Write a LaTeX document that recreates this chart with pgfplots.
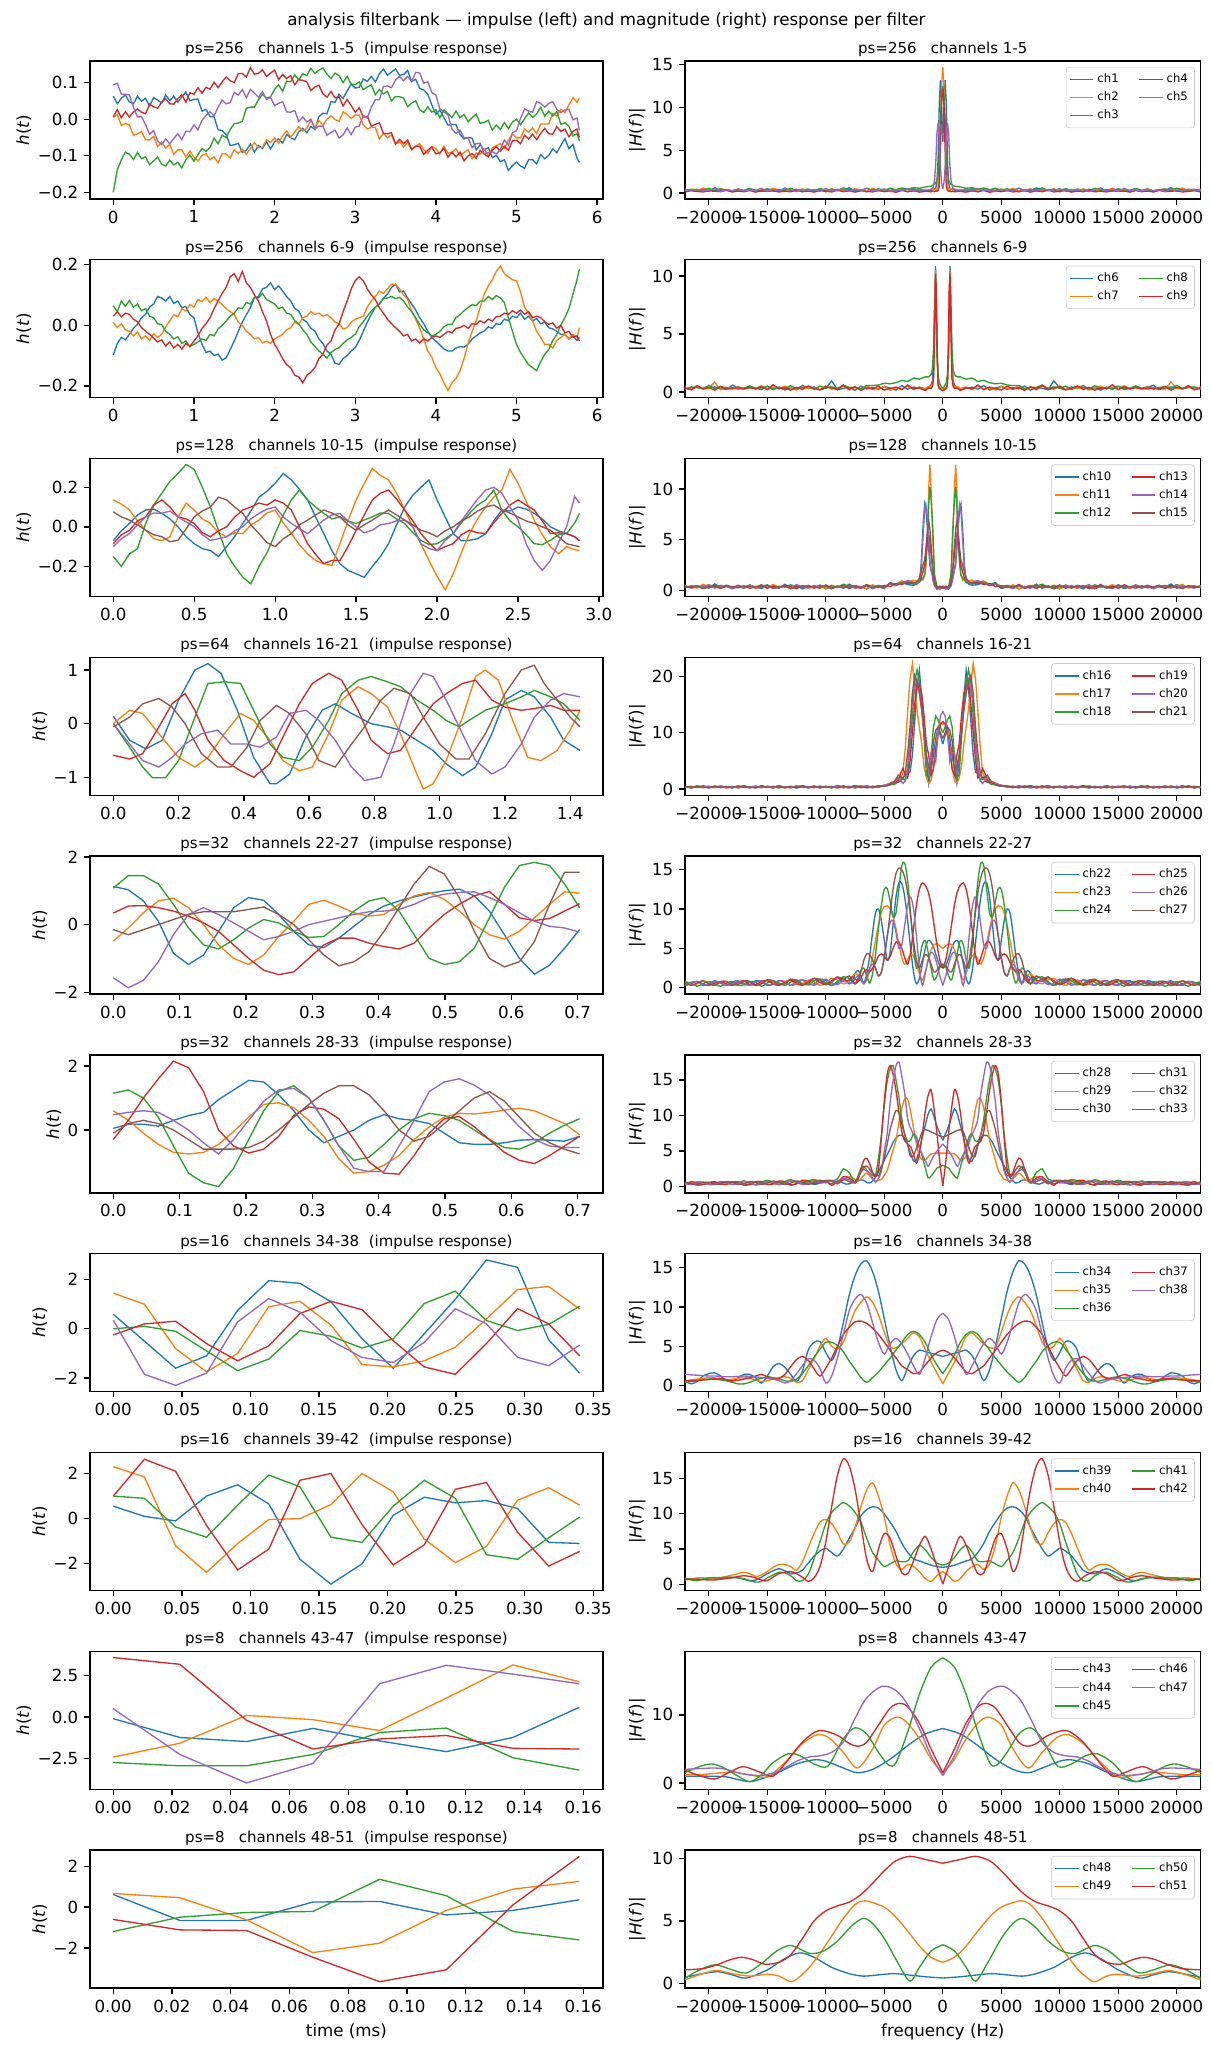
\documentclass[border=0pt]{standalone}
\usepackage{fontspec}
\setmainfont{DejaVu Sans}
\usepackage{pgfplots}
\usepackage{pgfplotstable}
\pgfplotsset{compat=1.18}
\usepgfplotslibrary{groupplots}

\definecolor{c0}{RGB}{31,119,180}
\definecolor{c1}{RGB}{255,127,14}
\definecolor{c2}{RGB}{44,160,44}
\definecolor{c3}{RGB}{214,39,40}
\definecolor{c4}{RGB}{148,103,189}
\definecolor{c5}{RGB}{140,86,75}

\pgfplotsset{
  p/.style={forget plot, line width=0.8pt},
  fb/.style={scale only axis, height=82.8pt, tick align=outside, tick pos=left,
    major tick length=3.5pt, tick style={black, line width=0.8pt},
    axis line style={line width=0.8pt},
    scaled x ticks=false, scaled y ticks=false,
    ticklabel style={font=\fontsize{10}{12}\selectfont},
    label style={font=\fontsize{10}{12}\selectfont},
    ylabel style={yshift=-3pt},
    title style={font=\fontsize{9}{11}\selectfont, anchor=base, yshift=-1.4pt},
  },
  L/.style={fb, width=307.8pt, ylabel={\textit{h}(\textit{t})}},
  R/.style={fb, width=309.6pt, xmin=-22050, xmax=22050,
    xtick={-20000,-15000,-10000,-5000,0,5000,10000,15000,20000},
    xticklabels={−20000,−15000,−10000,−5000,0,5000,10000,15000,20000},
    ylabel={|\textit{H}(\textit{f})|},
    legend columns=2, legend cell align=left,
    legend style={at={(1,1)}, xshift=-3.5pt, yshift=-3.5pt, anchor=north east,
      font=\fontsize{7}{8}\selectfont, draw=black!20, rounded corners=2pt,
      fill=white, fill opacity=0.8, text opacity=1, inner sep=2pt,
      /tikz/every even column/.append style={column sep=10pt}},
    legend image code/.code={\draw[##1, line width=0.8pt] (0pt,0pt) -- (14pt,0pt);},
  },
}
\newcommand{\li}[2]{\addlegendimage{#1}\addlegendentry{#2}}
\newcommand{\lp}[3]{\addplot[p,#1] table[x=t,y=#2]{#3};}
\newcommand{\mir}[4][]{\addplot[p,#2,#1] table[x=fq,y=#3]{#4};\addplot[p,#2,#1] table[x expr=-\thisrow{fq},y=#3]{#4};}

% ---------------- left tables ----------------
\pgfplotstableread{
t a b c d e
0.00 0.063 0.005 -0.200 0.007 0.094
0.05 0.042 0.012 -0.138 0.026 0.098
0.10 0.057 -0.017 -0.111 0.004 0.068
0.15 0.066 -0.012 -0.090 0.020 0.068
0.20 0.047 -0.016 -0.096 0.006 0.066
0.25 0.042 -0.044 -0.110 0.020 0.033
0.30 0.063 -0.040 -0.091 0.028 0.006
0.35 0.049 -0.034 -0.108 0.019 0.007
0.40 0.057 -0.056 -0.103 0.015 -0.015
0.45 0.036 -0.057 -0.124 0.041 -0.041
0.50 0.059 -0.047 -0.114 0.034 -0.031
0.55 0.052 -0.075 -0.104 0.030 -0.060
0.60 0.044 -0.063 -0.123 0.046 -0.069
0.65 0.066 -0.079 -0.128 0.056 -0.054
0.70 0.051 -0.069 -0.112 0.042 -0.067
0.75 0.063 -0.096 -0.125 0.041 -0.053
0.80 0.046 -0.084 -0.118 0.056 -0.040
0.85 0.061 -0.084 -0.133 0.067 -0.056
0.90 0.074 -0.103 -0.111 0.046 -0.033
0.95 0.050 -0.087 -0.098 0.072 -0.034
1.00 0.054 -0.104 -0.115 0.068 -0.016
1.05 0.055 -0.114 -0.097 0.086 -0.029
1.10 0.022 -0.099 -0.080 0.071 -0.003
1.15 0.027 -0.094 -0.088 0.087 0.010
1.20 0.007 -0.111 -0.077 0.082 0.020
1.25 0.007 -0.103 -0.052 0.101 0.009
1.30 -0.029 -0.119 -0.067 0.086 0.033
1.35 -0.031 -0.094 -0.044 0.102 0.052
1.40 -0.042 -0.095 -0.050 0.115 0.042
1.45 -0.072 -0.106 -0.028 0.105 0.045
1.50 -0.070 -0.083 -0.012 0.100 0.073
1.55 -0.066 -0.094 -0.011 0.124 0.066
1.60 -0.091 -0.082 -0.006 0.125 0.081
1.65 -0.085 -0.096 0.030 0.115 0.059
1.70 -0.068 -0.080 0.033 0.141 0.081
1.75 -0.090 -0.064 0.033 0.123 0.071
1.80 -0.072 -0.078 0.053 0.125 0.060
1.85 -0.080 -0.077 0.068 0.135 0.075
1.90 -0.062 -0.056 0.058 0.117 0.054
1.95 -0.081 -0.064 0.061 0.126 0.060
2.00 -0.062 -0.051 0.081 0.134 0.037
2.05 -0.054 -0.066 0.094 0.108 0.043
2.10 -0.065 -0.045 0.076 0.122 0.048
2.15 -0.042 -0.032 0.104 0.111 0.020
2.20 -0.051 -0.049 0.102 0.119 0.019
2.25 -0.056 -0.035 0.121 0.094 0.024
2.30 -0.035 -0.021 0.107 0.108 -0.006
2.35 -0.025 -0.032 0.124 0.106 0.006
2.40 -0.037 -0.025 0.119 0.102 -0.008
2.45 -0.020 -0.003 0.139 0.078 0.000
2.50 -0.028 -0.022 0.125 0.088 -0.027
2.55 0.007 -0.004 0.134 0.093 -0.019
2.60 0.016 -0.016 0.140 0.069 -0.019
2.65 0.015 0.000 0.123 0.060 -0.044
2.70 0.048 0.009 0.111 0.076 -0.036
2.75 0.046 -0.001 0.126 0.058 -0.030
2.80 0.068 -0.006 0.119 0.061 -0.051
2.85 0.057 0.020 0.100 0.036 -0.043
2.90 0.077 0.013 0.117 0.054 -0.024
2.95 0.096 0.002 0.096 0.037 -0.042
3.00 0.085 0.011 0.094 0.019 -0.022
3.05 0.087 0.011 0.102 0.031 -0.019
3.10 0.110 -0.015 0.081 0.006 0.010
3.15 0.103 -0.027 0.088 0.008 0.003
3.20 0.117 -0.022 0.094 -0.019 0.033
3.25 0.102 -0.023 0.067 -0.014 0.053
3.30 0.124 -0.054 0.081 -0.010 0.053
3.35 0.137 -0.038 0.069 -0.039 0.089
3.40 0.120 -0.051 0.076 -0.040 0.091
3.45 0.129 -0.043 0.050 -0.037 0.086
3.50 0.137 -0.068 0.062 -0.068 0.107
3.55 0.120 -0.061 0.061 -0.055 0.117
3.60 0.122 -0.076 0.058 -0.067 0.105
3.65 0.133 -0.063 0.034 -0.057 0.117
3.70 0.103 -0.084 0.044 -0.082 0.103
3.75 0.109 -0.074 0.050 -0.074 0.128
3.80 0.084 -0.067 0.026 -0.074 0.126
3.85 0.080 -0.083 0.018 -0.096 0.098
3.90 0.068 -0.094 0.034 -0.085 0.102
3.95 0.039 -0.075 0.019 -0.076 0.073
4.00 0.013 -0.080 0.026 -0.095 0.066
4.05 0.025 -0.095 0.004 -0.092 0.028
4.10 0.004 -0.074 0.025 -0.079 0.020
4.15 -0.016 -0.093 0.015 -0.104 0.012
4.20 -0.014 -0.091 0.004 -0.090 -0.027
4.25 -0.015 -0.081 0.022 -0.103 -0.039
4.30 -0.042 -0.100 0.004 -0.090 -0.030
4.35 -0.054 -0.091 0.013 -0.114 -0.051
4.40 -0.050 -0.083 -0.007 -0.100 -0.051
4.45 -0.052 -0.108 0.004 -0.094 -0.078
4.50 -0.084 -0.092 0.014 -0.107 -0.067
4.55 -0.070 -0.096 -0.011 -0.085 -0.066
4.60 -0.084 -0.081 -0.009 -0.095 -0.095
4.65 -0.078 -0.100 -0.003 -0.103 -0.091
4.70 -0.105 -0.079 -0.030 -0.085 -0.089
4.75 -0.099 -0.072 -0.016 -0.075 -0.095
4.80 -0.116 -0.067 -0.028 -0.088 -0.083
4.85 -0.111 -0.080 -0.009 -0.074 -0.057
4.90 -0.140 -0.057 -0.026 -0.085 -0.071
4.95 -0.127 -0.040 -0.008 -0.059 -0.037
5.00 -0.117 -0.051 0.000 -0.058 -0.032
5.05 -0.128 -0.051 -0.015 -0.067 0.002
5.10 -0.134 -0.027 0.001 -0.044 0.028
5.15 -0.111 -0.036 0.017 -0.054 0.022
5.20 -0.111 -0.024 0.005 -0.041 0.019
5.25 -0.122 -0.040 0.014 -0.056 0.048
5.30 -0.097 -0.013 0.033 -0.039 0.043
5.35 -0.108 -0.013 0.008 -0.025 0.033
5.40 -0.099 -0.013 0.022 -0.040 0.043
5.45 -0.081 0.016 0.009 -0.041 0.048
5.50 -0.092 0.008 0.021 -0.020 0.027
5.55 -0.072 0.027 -0.014 -0.034 0.018
5.60 -0.053 0.018 -0.010 -0.027 0.025
5.65 -0.081 0.039 -0.019 -0.048 0.027
5.70 -0.069 0.059 -0.046 -0.033 -0.002
5.75 -0.106 0.046 -0.039 -0.027 0.003
5.78 -0.118 0.057 -0.059 -0.050 -0.031
}\Lone

\pgfplotstableread{
t a b c d
0.00 -0.098 0.010 0.064 0.030
0.05 -0.060 -0.008 0.045 0.045
0.10 -0.040 0.005 0.080 0.028
0.15 -0.048 -0.015 0.062 0.040
0.20 -0.030 -0.020 0.082 0.036
0.25 -0.010 -0.035 0.060 0.020
0.30 0.003 -0.022 0.070 0.012
0.35 0.025 -0.045 0.048 -0.008
0.40 0.036 -0.035 0.055 -0.019
0.45 0.060 -0.050 0.030 -0.030
0.50 0.070 -0.028 0.025 -0.042
0.55 0.095 -0.040 0.005 -0.055
0.60 0.090 -0.030 0.002 -0.048
0.65 0.080 -0.005 -0.020 -0.068
0.70 0.095 0.014 -0.030 -0.055
0.75 0.072 0.035 -0.045 -0.075
0.80 0.080 0.028 -0.038 -0.063
0.85 0.058 0.055 -0.060 -0.078
0.90 0.062 0.047 -0.052 -0.060
0.95 0.035 0.068 -0.070 -0.070
1.00 0.025 0.060 -0.063 -0.052
1.05 -0.025 0.085 -0.055 -0.035
1.10 -0.063 0.078 -0.045 -0.010
1.15 -0.090 0.092 -0.050 0.005
1.20 -0.085 0.075 -0.030 0.025
1.25 -0.100 0.088 -0.035 0.055
1.30 -0.095 0.080 -0.012 0.080
1.35 -0.115 0.068 0.000 0.105
1.40 -0.107 0.055 0.014 0.125
1.45 -0.080 0.045 0.030 0.160
1.50 -0.052 0.036 0.040 0.170
1.55 -0.020 0.010 0.058 0.145
1.60 0.010 0.000 0.055 0.178
1.65 0.035 -0.020 0.075 0.140
1.70 0.058 -0.030 0.070 0.125
1.75 0.090 -0.045 0.092 0.100
1.80 0.095 -0.040 0.090 0.080
1.85 0.120 -0.058 0.105 0.045
1.90 0.125 -0.052 0.085 0.014
1.95 0.140 -0.060 0.078 -0.030
2.00 0.118 -0.045 0.070 -0.063
2.05 0.130 -0.038 0.055 -0.085
2.10 0.113 -0.030 0.060 -0.110
2.15 0.095 -0.015 0.040 -0.130
2.20 0.080 -0.008 0.036 -0.140
2.25 0.055 0.010 0.015 -0.165
2.30 0.047 0.003 0.005 -0.170
2.35 0.020 0.025 -0.015 -0.190
2.40 0.010 0.030 -0.030 -0.165
2.45 -0.010 0.045 -0.055 -0.155
2.50 -0.019 0.036 -0.070 -0.140
2.55 -0.045 0.040 -0.085 -0.110
2.60 -0.060 0.030 -0.096 -0.095
2.65 -0.085 0.035 -0.108 -0.065
2.70 -0.096 0.025 -0.090 -0.052
2.75 -0.125 0.010 -0.080 -0.015
2.80 -0.129 0.005 -0.074 0.005
2.85 -0.110 -0.012 -0.060 0.045
2.90 -0.100 -0.008 -0.048 0.080
2.95 -0.085 0.010 -0.040 0.120
3.00 -0.074 0.020 -0.030 0.147
3.05 -0.050 0.025 -0.005 0.160
3.10 -0.020 0.030 0.012 0.147
3.15 0.010 0.060 0.030 0.120
3.20 0.036 0.080 0.047 0.100
3.25 0.060 0.095 0.060 0.085
3.30 0.070 0.113 0.070 0.058
3.35 0.090 0.105 0.088 0.040
3.40 0.102 0.120 0.090 0.020
3.45 0.125 0.135 0.095 0.005
3.50 0.135 0.135 0.088 -0.008
3.55 0.110 0.120 0.092 -0.020
3.60 0.113 0.100 0.080 -0.035
3.65 0.090 0.085 0.060 -0.030
3.70 0.070 0.047 0.045 -0.052
3.75 0.050 0.020 0.025 -0.045
3.80 0.025 -0.010 0.003 -0.058
3.85 0.005 -0.045 -0.015 -0.045
3.90 -0.020 -0.085 -0.025 -0.052
3.95 -0.040 -0.105 -0.035 -0.040
4.00 -0.052 -0.140 -0.030 -0.035
4.05 -0.065 -0.160 -0.020 -0.040
4.10 -0.078 -0.190 -0.005 -0.030
4.15 -0.085 -0.215 0.003 -0.020
4.20 -0.085 -0.190 0.003 -0.025
4.25 -0.075 -0.175 0.025 -0.010
4.30 -0.070 -0.150 0.035 -0.008
4.35 -0.072 -0.110 0.048 0.000
4.40 -0.063 -0.060 0.058 -0.010
4.45 -0.045 -0.020 0.068 0.005
4.50 -0.035 0.014 0.065 0.003
4.55 -0.025 0.060 0.080 0.015
4.60 -0.019 0.102 0.080 0.008
4.65 -0.005 0.130 0.095 0.020
4.70 -0.010 0.150 0.085 0.014
4.75 0.005 0.178 0.098 0.028
4.80 0.003 0.195 0.090 0.030
4.85 0.020 0.170 0.075 0.040
4.90 0.015 0.160 0.025 0.036
4.95 0.030 0.150 -0.020 0.048
5.00 0.025 0.147 -0.063 0.040
5.05 0.040 0.110 -0.090 0.050
5.10 0.020 0.060 -0.110 0.036
5.15 0.030 0.040 -0.130 0.045
5.20 0.014 0.014 -0.140 0.025
5.25 0.022 -0.020 -0.150 0.030
5.30 0.005 -0.040 -0.120 0.025
5.35 0.010 -0.063 -0.096 0.012
5.40 -0.008 -0.063 -0.080 0.003
5.45 -0.012 -0.075 -0.050 0.008
5.50 -0.020 -0.050 -0.030 -0.010
5.55 -0.030 -0.040 0.000 0.000
5.60 -0.030 -0.030 0.025 -0.025
5.65 -0.045 -0.045 0.055 -0.020
5.70 -0.035 -0.030 0.102 -0.040
5.75 -0.050 -0.040 0.150 -0.035
5.78 -0.040 -0.008 0.185 -0.052
}\Ltwo

\pgfplotstableread{
t a b c d e f
0.00 -0.070 0.136 -0.150 -0.085 -0.100 0.076
0.05 -0.020 0.115 -0.200 -0.040 -0.060 0.050
0.10 0.017 0.085 -0.136 -0.017 -0.034 0.034
0.15 0.060 0.030 -0.110 0.030 0.010 0.010
0.20 0.085 -0.017 0.017 0.050 0.050 -0.017
0.25 0.090 -0.060 0.110 0.110 0.070 -0.040
0.30 0.068 -0.070 0.170 0.136 0.068 -0.050
0.35 0.040 -0.050 0.230 0.100 0.080 -0.075
0.40 0.000 0.050 0.270 0.050 0.050 -0.068
0.45 -0.050 0.120 0.315 0.040 0.025 -0.010
0.50 -0.085 0.085 0.290 0.017 0.000 0.050
0.55 -0.110 0.040 0.200 -0.030 -0.040 0.080
0.60 -0.120 0.017 0.100 -0.050 -0.068 0.100
0.65 -0.150 -0.030 -0.020 -0.020 -0.060 0.150
0.70 -0.100 -0.050 -0.136 0.000 -0.050 0.136
0.75 -0.050 -0.030 -0.200 0.050 -0.020 0.100
0.80 0.017 -0.034 -0.254 0.085 0.000 0.068
0.85 0.080 0.010 -0.288 0.100 0.040 0.010
0.90 0.150 0.034 -0.200 0.120 0.068 -0.034
0.95 0.180 0.070 -0.130 0.110 0.090 -0.080
1.00 0.220 0.085 -0.034 0.136 0.100 -0.100
1.05 0.270 0.020 0.060 0.120 0.050 -0.060
1.10 0.237 -0.034 0.136 0.085 0.017 -0.034
1.15 0.190 -0.090 0.186 0.000 -0.010 0.010
1.20 0.136 -0.136 0.136 -0.085 -0.034 0.034
1.25 0.050 -0.170 0.100 -0.140 0.000 0.060
1.30 -0.034 -0.186 0.068 -0.186 0.034 0.085
1.35 -0.120 -0.195 0.040 -0.170 0.060 0.070
1.40 -0.186 -0.085 0.050 -0.170 0.068 0.050
1.45 -0.220 0.030 0.030 -0.100 0.030 0.010
1.50 -0.237 0.136 0.017 -0.017 0.000 -0.017
1.55 -0.255 0.220 0.035 0.060 -0.030 0.010
1.60 -0.200 0.295 0.050 0.136 -0.017 0.034
1.65 -0.150 0.260 0.070 0.170 0.010 0.060
1.70 -0.085 0.237 0.068 0.186 0.017 0.085
1.75 0.010 0.170 0.040 0.140 0.030 0.060
1.80 0.100 0.085 0.017 0.085 0.034 0.034
1.85 0.160 0.000 -0.030 0.030 0.000 0.010
1.90 0.200 -0.085 -0.068 -0.034 -0.085 -0.017
1.95 0.237 -0.170 -0.090 -0.080 -0.110 -0.030
2.00 0.136 -0.250 -0.085 -0.120 -0.120 -0.050
2.05 0.050 -0.318 -0.060 -0.100 -0.070 -0.020
2.10 -0.034 -0.237 -0.034 -0.085 -0.034 0.000
2.15 -0.070 -0.130 0.020 -0.040 0.030 0.030
2.20 -0.068 -0.034 0.068 -0.017 0.085 0.050
2.25 -0.060 0.040 0.110 -0.030 0.140 0.080
2.30 -0.034 0.100 0.136 -0.034 0.186 0.100
2.35 0.030 0.150 0.186 0.020 0.200 0.110
2.40 0.085 0.186 0.085 0.068 0.170 0.085
2.45 0.080 0.290 0.030 0.110 0.100 0.070
2.50 0.100 0.220 0.000 0.136 0.034 0.050
2.55 0.090 0.130 -0.040 0.110 -0.085 0.030
2.60 0.068 0.034 -0.085 0.085 -0.170 0.017
2.65 0.040 -0.040 -0.090 0.030 -0.220 0.000
2.70 0.000 -0.100 -0.068 -0.034 -0.170 -0.017
2.75 -0.020 -0.136 -0.040 -0.030 -0.080 -0.050
2.80 -0.034 -0.100 -0.034 -0.034 0.000 -0.085
2.85 -0.050 -0.115 0.020 -0.050 0.153 -0.095
2.88 -0.070 -0.120 0.068 -0.070 0.120 -0.100
}\Lthree

\pgfplotstableread{
t a b c d e f
0.0000 1.13 -0.49 1.08 0.34 -1.57 -0.15
0.0227 1.03 -0.10 1.45 0.55 -1.87 -0.30
0.0454 0.70 0.35 1.45 0.56 -1.65 -0.15
0.0680 0.10 0.70 1.20 0.50 -1.10 0.00
0.0907 -0.85 0.78 0.60 0.40 -0.30 0.15
0.1134 -1.18 0.50 -0.10 0.25 0.30 0.30
0.1361 -0.90 0.00 -0.60 0.05 0.50 0.38
0.1587 -0.20 -0.60 -0.72 -0.20 0.30 0.38
0.1814 0.50 -1.00 -0.45 -0.60 0.05 0.38
0.2041 0.80 -1.18 -0.10 -1.00 -0.20 0.45
0.2268 0.72 -0.90 0.15 -1.35 -0.45 0.52
0.2494 0.30 -0.35 0.05 -1.48 -0.35 0.30
0.2721 -0.20 0.10 -0.20 -1.40 -0.20 0.00
0.2948 -0.60 0.60 -0.38 -1.00 0.00 -0.45
0.3175 -0.68 0.72 -0.35 -0.60 0.10 -0.90
0.3401 -0.40 0.55 0.00 -0.40 0.20 -1.22
0.3628 -0.05 0.35 0.40 -0.40 0.30 -1.10
0.3855 0.30 0.25 0.70 -0.55 0.38 -0.80
0.4082 0.55 0.30 0.80 -0.65 0.40 -0.20
0.4308 0.70 0.60 0.40 -0.72 0.45 0.50
0.4535 0.82 0.85 -0.30 -0.55 0.60 1.20
0.4762 0.92 0.95 -1.00 -0.10 0.80 1.72
0.4989 1.00 0.75 -1.18 0.30 0.90 1.50
0.5215 1.05 0.40 -1.10 0.60 0.95 0.80
0.5442 0.85 0.00 -0.70 0.85 0.97 -0.20
0.5669 0.40 -0.30 0.20 0.98 0.80 -1.00
0.5896 -0.30 -0.43 1.10 0.60 0.60 -1.25
0.6122 -1.00 -0.20 1.75 0.20 0.35 -1.10
0.6349 -1.47 0.20 1.84 0.12 0.10 -0.50
0.6576 -1.20 0.60 1.75 0.18 -0.05 0.60
0.6803 -0.70 0.97 1.20 0.40 -0.10 1.55
0.7029 -0.15 0.93 0.50 0.62 -0.22 1.55
}\Lfive

\pgfplotstableread{
t a b c d e f
0.0000 0.05 0.60 1.15 -0.30 0.48 -0.10
0.0227 0.18 0.30 1.25 0.30 0.55 0.20
0.0454 0.18 -0.10 1.00 1.00 0.60 0.30
0.0680 0.12 -0.45 0.40 1.60 0.55 0.20
0.0907 0.30 -0.70 -0.50 2.15 0.30 0.00
0.1134 0.45 -0.75 -1.35 1.95 0.00 -0.30
0.1361 0.55 -0.70 -1.65 1.20 -0.40 -0.60
0.1587 0.95 -0.45 -1.77 0.00 -0.75 -0.60
0.1814 1.25 -0.05 -1.20 -0.50 -0.30 -0.60
0.2041 1.55 0.40 -0.30 -0.72 0.30 -0.55
0.2268 1.50 0.80 0.60 -0.60 0.90 -0.35
0.2494 1.10 0.85 1.20 -0.20 1.25 0.00
0.2721 0.60 0.70 1.38 0.45 1.30 0.40
0.2948 0.00 0.30 1.00 0.72 1.00 0.80
0.3175 -0.40 -0.20 0.30 0.65 0.30 1.15
0.3401 -0.20 -0.90 -0.50 0.35 -0.50 1.38
0.3628 0.00 -1.35 -0.95 -0.30 -1.20 1.38
0.3855 0.30 -1.30 -0.85 -1.00 -1.30 1.10
0.4082 0.48 -1.10 -0.45 -1.35 -1.30 0.60
0.4308 0.35 -0.80 0.00 -1.38 -0.50 0.00
0.4535 0.30 -0.30 0.35 -0.80 0.30 -0.35
0.4762 0.20 0.10 0.52 -0.10 1.20 -0.20
0.4989 -0.10 0.40 0.45 0.35 1.50 0.20
0.5215 -0.40 0.52 0.30 0.42 1.60 0.60
0.5442 -0.45 0.50 0.00 0.10 1.40 1.00
0.5669 -0.45 0.55 -0.30 -0.30 1.10 1.20
0.5896 -0.40 0.62 -0.55 -0.70 0.60 0.90
0.6122 -0.32 0.68 -0.60 -0.95 0.10 0.40
0.6349 -0.30 0.60 -0.40 -1.05 -0.30 -0.10
0.6576 -0.32 0.40 -0.10 -0.80 -0.50 -0.40
0.6803 -0.35 0.20 0.15 -0.50 -0.55 -0.60
0.7029 -0.20 -0.15 0.35 -0.20 -0.55 -0.75
}\Lsix

\pgfplotstableread{
t a b c d e
0.0000 0.59 1.45 0.00 -0.25 0.35
0.0227 -0.50 1.00 0.10 0.20 -1.85
0.0454 -1.60 -0.80 -0.10 0.31 -2.30
0.0680 -1.10 -1.75 -0.90 -0.60 -1.80
0.0907 0.75 -1.00 -1.70 -1.30 0.28
0.1134 1.96 0.90 -1.23 -0.69 1.23
0.1361 1.85 1.12 -0.07 0.62 0.68
0.1587 1.10 0.15 -0.30 1.12 -0.48
0.1814 -0.40 -1.45 -0.78 0.78 -1.16
0.2041 -1.60 -1.55 -0.41 -0.48 -1.37
0.2268 -0.20 -1.30 1.03 -1.55 -0.55
0.2494 1.20 -0.75 1.53 -1.85 0.82
0.2721 2.80 0.40 0.34 -0.60 0.20
0.2948 2.50 1.60 -0.07 0.82 -1.16
0.3175 -0.45 1.72 0.18 0.20 -1.50
0.3401 -1.80 0.80 0.92 -1.10 -0.66
}\Lseven

\pgfplotstableread{
t a b c d
0.0000 0.55 2.30 1.00 1.00
0.0227 0.10 1.85 0.90 2.63
0.0454 -0.10 -1.20 -0.37 2.10
0.0680 1.00 -2.38 -0.82 -0.30
0.0907 1.50 -1.10 0.60 -2.27
0.1134 0.65 -0.04 1.93 -1.35
0.1361 -1.80 0.00 1.41 1.70
0.1587 -2.90 0.62 -0.82 2.00
0.1814 -2.00 2.00 -1.05 -0.27
0.2041 0.15 1.19 0.55 -2.05
0.2268 0.95 -0.90 1.70 -1.16
0.2494 0.70 -1.95 0.90 1.30
0.2721 0.80 -1.23 -1.60 1.60
0.2948 0.45 0.82 -1.80 -0.60
0.3175 -1.05 1.37 -0.85 -2.10
0.3401 -1.10 0.60 0.07 -1.45
}\Leight

\pgfplotstableread{
t a b c d e
0.0000 -0.10 -2.43 -2.76 3.61 0.51
0.0227 -1.24 -1.59 -2.96 3.20 -2.27
0.0454 -1.49 0.10 -2.96 -0.20 -4.00
0.0680 -0.69 -0.16 -2.27 -1.94 -2.82
0.0907 -1.45 -0.82 -0.94 -1.33 2.02
0.1134 -2.10 1.15 -0.67 -1.12 3.14
0.1361 -1.24 3.16 -2.47 -1.90 2.60
0.1587 0.59 2.14 -3.22 -1.94 2.02
}\Lnine

\pgfplotstableread{
t a b c d
0.0000 0.62 0.67 -1.19 -0.60
0.0227 -0.65 0.46 -0.49 -1.11
0.0454 -0.65 -0.62 -0.26 -1.14
0.0680 0.25 -2.22 -0.21 -2.45
0.0907 0.28 -1.76 1.36 -3.64
0.1134 -0.38 -0.16 0.56 -3.06
0.1361 -0.16 0.88 -1.19 0.11
0.1587 0.36 1.26 -1.60 2.48
}\Lten

% ---------------- right tables (f >= 0, mirrored) ----------------
\pgfplotstableread{
fq a b c d e
0 6.0 14.7 12.5 12.2 0.5
100 10.0 12.5 11.5 10.5 1.2
200 13.2 8.0 8.5 5.0 3.0
300 10.5 3.5 4.5 0.8 6.5
400 4.0 0.8 2.2 0.3 8.2
500 1.2 0.4 1.5 0.2 7.0
600 0.6 0.3 1.2 0.25 3.5
700 0.4 0.5 1.0 0.15 1.5
850 0.5 0.3 0.9 0.2 0.6
1000 0.3 0.45 0.8 0.15 0.4
1500 0.35 0.28 0.70 0.18 0.30
2000 0.22 0.45 0.55 0.10 0.42
2500 0.48 0.20 0.62 0.25 0.20
3000 0.15 0.36 0.45 0.14 0.50
3500 0.40 0.52 0.58 0.30 0.26
4000 0.28 0.18 0.40 0.08 0.36
4500 0.55 0.30 0.52 0.22 0.16
5000 0.18 0.42 0.35 0.16 0.46
5500 0.32 0.24 0.48 0.28 0.32
6000 0.45 0.55 0.30 0.12 0.22
6500 0.12 0.16 0.56 0.20 0.55
7000 0.38 0.34 0.25 0.26 0.28
7500 0.25 0.48 0.42 0.10 0.40
8000 0.60 0.22 0.38 0.24 0.18
8500 0.20 0.38 0.60 0.15 0.48
9000 0.42 0.26 0.28 0.32 0.34
9500 0.30 0.50 0.44 0.12 0.24
10000 0.16 0.14 0.32 0.20 0.52
10500 0.50 0.40 0.50 0.28 0.20
11000 0.26 0.30 0.22 0.10 0.38
11500 0.36 0.20 0.46 0.22 0.30
12000 0.14 0.46 0.36 0.16 0.44
12500 0.44 0.32 0.28 0.30 0.16
13000 0.24 0.18 0.54 0.14 0.36
13500 0.58 0.44 0.30 0.20 0.50
14000 0.20 0.28 0.40 0.12 0.26
14500 0.34 0.56 0.20 0.26 0.42
15000 0.46 0.22 0.48 0.18 0.20
15500 0.18 0.36 0.34 0.24 0.54
16000 0.30 0.16 0.26 0.10 0.30
16500 0.52 0.42 0.52 0.28 0.36
17000 0.22 0.26 0.32 0.15 0.22
17500 0.40 0.50 0.42 0.22 0.46
18000 0.15 0.20 0.24 0.12 0.28
18500 0.36 0.34 0.38 0.30 0.40
19000 0.28 0.48 0.46 0.16 0.18
19500 0.62 0.24 0.28 0.20 0.48
20000 0.20 0.38 0.56 0.25 0.32
20500 0.45 0.58 0.30 0.12 0.24
21000 0.26 0.22 0.36 0.18 0.44
21500 0.38 0.30 0.44 0.26 0.34
22000 0.30 0.44 0.26 0.14 0.28
22050 0.25 0.35 0.40 0.20 0.30
}\Rone

\pgfplotstableread{
fq a b c d
0 0.10 0.15 0.30 0.10
150 0.20 0.30 0.50 0.20
300 0.30 0.40 0.80 0.30
400 0.80 0.60 1.50 0.60
480 3.00 3.50 3.00 4.00
550 7.00 8.00 5.50 9.00
620 10.85 10.50 7.50 10.20
700 8.00 6.00 7.00 5.00
780 3.00 1.50 4.00 1.20
880 1.00 0.60 2.00 0.50
1000 0.60 0.40 1.50 0.30
1200 0.40 0.50 1.30 0.35
1500 0.18 0.30 1.30 0.12
2000 0.30 0.42 1.10 0.38
2500 0.42 0.20 1.20 0.25
3000 0.24 0.50 0.90 0.60
3500 0.55 0.26 1.00 0.20
4000 0.16 0.36 0.80 0.42
4500 0.34 0.16 0.70 0.30
5000 0.48 0.46 0.75 0.16
5500 0.22 0.32 0.60 0.50
6000 0.38 0.22 0.55 0.26
6500 0.26 0.55 0.56 0.36
7000 0.50 0.28 0.25 0.14
7500 0.14 0.40 0.42 0.44
8000 0.40 0.18 0.38 0.24
8500 0.30 0.48 0.60 0.58
9000 0.20 0.34 0.28 0.20
9500 0.95 0.24 0.44 0.34
10000 0.32 0.52 0.32 0.46
10500 0.18 0.20 0.50 0.18
11000 0.44 0.38 0.22 0.30
11500 0.28 0.30 0.46 0.52
12000 0.56 0.44 0.36 0.22
12500 0.22 0.16 0.28 0.40
13000 0.36 0.36 0.54 0.15
13500 0.16 0.50 0.30 0.36
14000 0.42 0.26 0.40 0.28
14500 0.26 0.42 0.20 0.62
15000 0.50 0.20 0.48 0.20
15500 0.20 0.54 0.34 0.45
16000 0.34 0.30 0.26 0.26
16500 0.48 0.36 0.52 0.38
17000 0.24 0.22 0.32 0.30
17500 0.38 0.46 0.42 0.25
18000 0.58 0.28 0.24 0.35
18500 0.22 0.40 0.38 0.22
19000 0.30 0.18 0.46 0.48
19500 0.44 0.85 0.28 0.15
20000 0.35 0.32 0.56 0.40
20500 0.28 0.24 0.30 0.28
21000 0.45 0.44 0.36 0.55
21500 0.20 0.34 0.44 0.18
22000 0.36 0.28 0.26 0.32
22050 0.52 0.30 0.40 0.45
}\Rtwo

\pgfplotstableread{
fq a b c d e f
0 0.30 0.20 0.30 0.40 0.30 0.20
250 0.20 0.30 0.20 0.30 0.10 0.40
500 0.10 0.20 0.40 0.20 0.20 0.30
700 0.50 1.00 1.50 0.80 0.40 0.60
850 1.50 5.00 6.00 2.00 1.00 2.00
1000 2.00 10.00 9.00 3.50 2.00 4.50
1100 2.50 12.40 10.20 4.80 3.00 6.00
1200 4.00 10.00 8.50 5.50 5.00 6.90
1300 6.00 6.00 5.00 5.00 7.00 6.00
1450 8.00 2.50 2.50 3.50 8.50 4.00
1550 8.50 1.50 1.50 2.50 8.00 3.00
1700 6.00 1.00 1.20 1.80 5.00 2.50
1850 2.50 1.20 1.00 1.20 2.00 1.80
2000 0.80 1.00 0.80 1.00 1.00 1.20
2250 0.60 0.90 0.70 0.80 0.70 0.80
2500 0.50 1.00 0.60 0.70 0.80 0.70
3000 0.55 0.76 0.85 0.80 0.96 0.70
3500 0.80 0.92 0.78 0.56 0.70 0.72
4000 0.58 0.58 0.60 0.66 0.52 0.45
4500 0.75 0.60 0.62 0.36 0.62 0.70
5000 0.18 0.42 0.35 0.46 0.28 0.20
5500 0.32 0.24 0.48 0.32 0.36 0.38
6000 0.45 0.55 0.30 0.22 0.16 0.28
6500 0.12 0.16 0.56 0.55 0.44 0.46
7000 0.38 0.34 0.25 0.28 0.32 0.18
7500 0.25 0.48 0.42 0.40 0.20 0.34
8000 0.60 0.22 0.38 0.18 0.50 0.52
8500 0.20 0.38 0.60 0.48 0.26 0.24
9000 0.42 0.26 0.28 0.34 0.38 0.40
9500 0.30 0.50 0.44 0.24 0.14 0.16
10000 0.16 0.14 0.32 0.52 0.42 0.44
10500 0.50 0.40 0.50 0.20 0.30 0.30
11000 0.26 0.30 0.22 0.38 0.48 0.22
11500 0.36 0.20 0.46 0.30 0.22 0.48
12000 0.14 0.46 0.36 0.44 0.34 0.26
12500 0.44 0.32 0.28 0.16 0.56 0.36
13000 0.24 0.18 0.54 0.36 0.20 0.14
13500 0.58 0.44 0.30 0.50 0.40 0.42
14000 0.20 0.28 0.40 0.26 0.28 0.32
14500 0.34 0.56 0.20 0.42 0.18 0.20
15000 0.46 0.22 0.48 0.20 0.46 0.54
15500 0.18 0.36 0.34 0.54 0.32 0.28
16000 0.30 0.16 0.26 0.30 0.24 0.38
16500 0.52 0.42 0.52 0.36 0.50 0.18
17000 0.22 0.26 0.32 0.22 0.26 0.46
17500 0.40 0.50 0.42 0.46 0.38 0.24
18000 0.15 0.20 0.24 0.28 0.16 0.34
18500 0.36 0.34 0.38 0.40 0.44 0.50
19000 0.28 0.48 0.46 0.18 0.30 0.22
19500 0.62 0.24 0.28 0.48 0.22 0.40
20000 0.20 0.38 0.56 0.32 0.52 0.30
20500 0.45 0.58 0.30 0.24 0.28 0.16
21000 0.26 0.22 0.36 0.44 0.36 0.44
21500 0.38 0.30 0.44 0.34 0.20 0.28
22000 0.30 0.44 0.26 0.28 0.42 0.36
22050 0.25 0.35 0.40 0.30 0.30 0.25
}\Rthree

\pgfplotstableread{
fq a b c d e f
0 8.0 11.5 10.0 12.0 13.8 9.0
200 9.5 11.8 11.0 11.5 13.0 10.0
400 11.0 10.5 12.3 9.5 10.0 11.0
600 9.0 7.5 13.0 7.0 5.0 10.5
800 6.0 3.8 11.0 3.5 7.0 8.5
1000 3.5 1.5 6.0 2.5 6.5 3.0
1200 1.0 1.0 2.0 6.0 3.0 4.0
1400 5.0 2.0 2.5 8.0 6.0 6.0
1600 10.0 4.0 9.0 13.0 10.5 10.0
1800 16.0 8.0 15.0 17.0 14.0 14.0
2000 21.1 11.0 19.0 18.5 17.5 17.0
2200 18.0 14.0 21.2 19.0 19.5 19.0
2400 12.0 18.5 19.0 15.0 18.0 20.2
2600 6.0 22.3 13.0 10.0 16.0 17.0
2800 3.0 19.5 7.5 5.0 9.0 11.0
3000 2.8 14.0 3.0 2.0 4.0 6.5
3200 2.5 7.5 1.5 2.5 1.5 3.0
3400 2.0 3.0 2.0 3.7 1.0 1.8
3600 1.5 1.8 2.2 2.8 1.5 2.2
3800 1.2 1.5 1.8 1.5 2.0 2.5
4000 1.2 1.3 1.0 1.2 1.6 1.8
4200 0.9 1.1 0.8 1.3 1.2 1.2
4400 0.8 1.0 0.9 1.2 1.0 0.9
4600 0.7 0.8 0.7 0.9 1.0 0.7
4800 0.6 0.7 0.6 0.8 0.8 0.6
5000 0.6 0.6 0.5 0.7 0.7 0.5
5500 0.50 0.40 0.60 0.45 0.30 0.55
6000 0.30 0.55 0.35 0.25 0.50 0.35
6500 0.60 0.25 0.45 0.50 0.35 0.25
7000 0.40 0.45 0.25 0.35 0.60 0.45
7500 0.20 0.60 0.55 0.60 0.25 0.50
8000 0.50 0.30 0.40 0.20 0.45 0.30
8500 0.35 0.40 0.30 0.40 0.20 0.60
9000 0.60 0.20 0.60 0.55 0.50 0.25
9500 0.30 0.50 0.20 0.30 0.40 0.40
10000 0.45 0.35 0.45 0.45 0.30 0.50
10500 0.25 0.55 0.35 0.20 0.55 0.30
11000 0.55 0.25 0.50 0.50 0.25 0.45
11500 0.30 0.40 0.25 0.35 0.45 0.20
12000 0.40 0.60 0.40 0.60 0.35 0.55
12500 0.20 0.30 0.55 0.25 0.60 0.35
13000 0.50 0.45 0.30 0.40 0.20 0.40
13500 0.35 0.20 0.45 0.30 0.40 0.25
14000 0.60 0.50 0.20 0.55 0.50 0.50
14500 0.25 0.35 0.50 0.20 0.30 0.45
15000 0.45 0.55 0.35 0.45 0.45 0.30
15500 0.30 0.25 0.60 0.35 0.25 0.60
16000 0.50 0.40 0.25 0.50 0.55 0.20
16500 0.20 0.30 0.40 0.25 0.35 0.40
17000 0.40 0.60 0.30 0.60 0.40 0.35
17500 0.55 0.20 0.50 0.30 0.20 0.55
18000 0.30 0.45 0.20 0.40 0.50 0.25
18500 0.45 0.35 0.45 0.20 0.30 0.45
19000 0.25 0.50 0.35 0.50 0.60 0.30
19500 0.50 0.25 0.55 0.35 0.25 0.50
20000 0.35 0.55 0.25 0.45 0.45 0.20
20500 0.60 0.30 0.40 0.25 0.35 0.40
21000 0.30 0.40 0.30 0.55 0.50 0.55
21500 0.40 0.20 0.50 0.30 0.20 0.30
22000 0.25 0.45 0.35 0.40 0.40 0.45
22050 0.40 0.35 0.30 0.35 0.30 0.40
}\Rfour

\pgfplotstableread{
fq a b c d e f
0 2.5 5.0 3.0 2.5 0.3 3.0
250 2.8 5.3 2.6 3.5 1.5 2.8
500 3.8 5.6 1.5 5.5 3.0 2.2
750 5.0 5.5 1.0 8.0 4.2 2.0
1000 5.8 4.8 2.5 10.5 4.5 3.0
1250 6.0 3.5 4.5 12.2 3.5 4.0
1500 5.0 2.0 6.0 13.0 1.8 4.2
1750 3.0 1.0 5.5 13.3 0.3 3.5
2000 1.2 1.8 3.5 12.5 2.5 2.5
2250 0.5 3.2 2.5 10.5 6.5 3.5
2500 2.0 4.0 5.0 7.5 10.0 6.0
2750 5.0 4.2 9.5 4.5 11.5 9.0
3000 8.5 3.6 13.5 3.0 10.5 12.0
3250 11.5 3.0 15.8 3.8 8.0 14.0
3500 13.2 3.8 15.5 5.0 5.5 15.0
3750 13.3 5.5 12.5 5.8 5.0 15.2
4000 11.5 7.5 9.5 5.8 7.0 14.5
4250 8.0 9.0 9.0 5.0 8.5 12.5
4500 4.5 10.0 11.0 4.0 8.3 9.5
4750 3.5 10.4 12.6 3.5 6.5 6.5
5000 6.0 10.3 12.5 4.0 4.0 3.8
5250 8.5 9.5 10.5 4.3 2.0 2.0
5500 10.0 8.0 7.5 4.0 1.5 1.5
5750 9.5 6.0 4.2 3.2 2.5 2.5
6000 7.0 4.0 1.8 2.5 3.0 3.5
6250 4.0 2.2 0.6 2.0 2.5 4.2
6500 1.8 1.0 1.5 2.3 1.2 4.3
6750 0.6 0.5 2.5 2.0 0.5 3.5
7000 1.5 1.0 2.2 1.2 1.0 2.0
7250 2.2 1.6 1.2 0.8 1.5 0.8
7500 1.8 1.8 0.5 1.2 1.2 0.5
7750 0.8 1.4 0.8 1.4 0.6 1.0
8000 0.5 0.8 1.2 1.0 0.6 1.5
8500 1.2 0.5 1.4 0.8 0.9 1.1
9000 0.6 1.0 0.8 1.3 0.4 1.4
9500 0.3 1.2 0.3 0.9 0.6 0.7
10000 0.9 0.6 0.6 0.4 1.1 0.4
10500 1.1 0.3 1.1 0.7 0.8 1.0
11000 0.5 0.8 0.9 1.2 0.3 1.2
11500 0.4 1.0 0.4 0.8 0.7 0.6
12000 1.0 0.5 0.5 0.3 1.0 0.4
12500 0.8 0.4 1.0 0.6 0.5 0.9
13000 0.3 0.9 0.7 1.0 0.3 1.1
13500 0.7 0.8 0.3 0.7 0.8 0.5
14000 0.9 0.3 0.6 0.3 0.9 0.4
14500 0.5 0.6 0.9 0.5 0.4 0.9
15000 0.3 1.0 0.6 0.9 0.4 1.0
15500 0.8 0.6 0.2 0.8 0.9 0.5
16000 0.9 0.3 0.7 0.4 0.7 0.3
16500 0.4 0.7 0.8 0.4 0.3 0.8
17000 0.4 0.9 0.4 0.9 0.6 0.9
17500 0.9 0.5 0.3 0.7 0.8 0.4
18000 0.7 0.4 0.8 0.3 0.5 0.4
18500 0.3 0.8 0.6 0.5 0.3 0.8
19000 0.6 0.7 0.2 0.8 0.7 0.8
19500 0.9 0.3 0.5 0.6 0.8 0.3
20000 0.5 0.6 0.8 0.3 0.4 0.5
20500 0.3 0.9 0.5 0.5 0.4 0.9
21000 0.8 0.5 0.2 0.8 0.8 0.6
21500 0.7 0.4 0.6 0.6 0.6 0.3
22000 0.4 0.8 0.7 0.3 0.3 0.6
22050 0.6 0.7 0.4 0.5 0.5 0.8
}\Rfive

\pgfplotstableread{
fq a b c d e f
0 6.5 4.7 3.0 0.1 6.0 7.0
250 7.5 4.7 2.8 3.4 5.5 7.1
500 8.5 4.7 2.6 7.5 5.0 7.3
750 9.8 4.65 2.0 11.0 4.4 7.5
1000 10.9 4.6 1.5 13.6 3.6 7.7
1250 10.2 4.2 1.2 12.8 2.85 7.9
1500 8.6 3.7 2.7 10.5 3.7 8.0
1750 7.0 3.8 4.2 7.3 4.5 7.7
2000 5.2 4.3 5.6 4.6 5.4 6.6
2250 3.8 6.0 7.0 3.3 6.4 5.4
2500 3.6 8.2 7.4 4.5 7.3 4.4
2750 4.7 10.5 6.5 5.6 8.2 4.2
3000 5.9 12.3 6.4 6.0 9.5 5.8
3250 6.8 12.3 7.3 6.4 13.0 7.3
3500 7.2 11.0 9.5 7.7 15.5 8.8
3750 7.2 9.0 12.5 10.5 17.5 10.4
4000 6.8 6.5 15.0 13.5 17.0 10.7
4250 6.2 5.2 17.0 15.8 14.8 9.5
4500 5.3 3.7 16.5 17.0 11.8 8.0
4750 4.5 2.3 14.8 15.8 7.5 6.0
5000 3.7 1.6 11.5 12.0 5.0 4.0
5250 2.9 1.0 7.2 6.8 2.2 2.5
5500 2.1 0.9 4.0 2.5 1.2 1.5
5750 1.3 0.8 1.6 1.4 0.6 1.7
6000 0.8 1.1 1.6 2.0 1.2 1.8
6250 0.5 1.5 1.8 3.2 1.9 2.4
6500 0.6 1.9 2.3 4.0 2.2 2.9
6750 0.9 1.6 2.8 3.7 2.4 2.7
7000 0.95 1.1 2.5 2.4 2.1 2.0
7250 0.85 0.8 1.5 1.0 1.3 1.2
7500 0.7 1.0 0.5 0.5 0.5 0.7
7750 0.55 1.3 1.2 0.9 0.7 0.55
8000 0.4 1.4 2.0 1.2 1.0 0.7
8250 0.35 1.2 2.3 1.4 1.1 0.9
8500 0.5 1.0 2.5 1.4 1.2 1.0
8750 0.7 0.6 1.8 1.0 0.9 0.7
9000 0.8 0.4 1.1 0.7 0.5 0.4
9250 0.6 0.6 0.9 0.4 0.7 0.5
9500 0.4 0.8 0.8 0.2 0.9 0.8
9750 0.5 0.7 0.85 0.5 0.8 0.9
10000 0.7 0.5 0.9 0.8 0.6 0.7
10500 0.5 0.8 0.7 0.6 0.5 0.9
11000 0.3 0.9 1.0 0.4 0.7 0.6
11500 0.6 0.5 0.8 0.8 0.4 0.3
12000 0.8 0.3 0.4 0.9 0.3 0.6
12500 0.4 0.6 0.6 0.4 0.7 0.8
13000 0.2 0.8 1.0 0.3 0.8 0.5
13500 0.5 0.6 0.7 0.7 0.4 0.3
14000 0.7 0.3 0.3 0.8 0.3 0.6
14500 0.4 0.4 0.6 0.4 0.6 0.8
15000 0.3 0.7 0.9 0.3 0.7 0.5
15500 0.6 0.6 0.6 0.7 0.4 0.3
16000 0.7 0.3 0.3 0.7 0.2 0.6
16500 0.3 0.4 0.5 0.3 0.6 0.7
17000 0.2 0.8 0.8 0.4 0.7 0.4
17500 0.5 0.5 0.5 0.7 0.4 0.3
18000 0.7 0.3 0.3 0.6 0.3 0.6
18500 0.4 0.5 0.6 0.3 0.6 0.7
19000 0.3 0.7 0.7 0.4 0.6 0.4
19500 0.6 0.4 0.4 0.7 0.3 0.3
20000 0.6 0.3 0.3 0.5 0.3 0.6
20500 0.3 0.6 0.6 0.3 0.6 0.6
21000 0.2 0.7 0.6 0.5 0.5 0.3
21500 0.5 0.4 0.3 0.7 0.3 0.4
22000 0.6 0.3 0.5 0.4 0.4 0.6
22050 0.4 0.5 0.6 0.5 0.5 0.5
}\Rsix

\pgfplotstableread{
fq a b c d e
0 3.7 0.2 1.5 4.5 9.2
500 3.9 1.6 2.6 4.2 8.4
1000 4.1 3.0 3.9 3.5 6.2
1500 4.3 4.6 5.5 2.6 3.5
2000 4.5 6.2 6.5 1.7 1.4
2500 3.8 6.7 6.9 1.5 2.5
3000 2.3 6.0 6.5 2.0 4.0
3500 0.6 5.3 5.5 2.5 5.3
4000 2.0 4.8 4.5 3.5 6.0
4500 5.0 4.9 3.5 4.5 5.3
5000 8.5 6.8 2.6 5.5 4.0
5500 12.0 9.0 1.7 6.5 5.5
6000 14.5 10.6 1.0 7.3 8.0
6500 15.9 11.3 0.4 7.9 10.5
7000 15.5 10.6 1.0 8.2 11.6
7500 14.0 9.5 2.1 8.1 11.0
8000 11.5 7.6 3.1 7.4 9.5
8500 8.0 5.5 4.3 6.5 6.5
9000 4.8 4.7 5.1 5.0 3.5
9500 3.2 5.0 5.5 3.5 1.2
10000 4.2 6.0 5.5 2.2 0.3
10500 5.6 5.0 4.6 1.2 2.2
11000 5.5 3.4 3.6 2.1 3.2
11500 4.5 2.0 2.5 3.2 3.4
12000 1.8 0.6 1.5 3.7 2.5
12500 0.5 0.4 0.8 3.3 1.5
13000 1.4 0.9 0.5 2.4 0.6
13500 2.3 1.1 0.6 1.4 0.3
14000 2.8 1.0 0.8 0.9 0.6
14500 2.4 0.8 1.0 0.8 0.8
15000 1.2 0.6 1.1 1.1 0.9
15500 0.3 0.5 0.9 1.4 1.0
16000 1.0 0.7 0.7 1.2 1.1
16500 1.4 0.9 0.4 0.95 1.15
17000 1.4 1.0 0.2 0.8 1.2
17500 1.0 0.9 0.2 0.65 1.15
18000 0.5 0.8 0.4 0.6 1.1
18500 0.6 0.7 0.6 0.75 1.1
19000 1.2 0.8 0.7 0.9 1.15
19500 1.6 0.95 0.8 0.85 1.2
20000 1.5 1.0 0.8 0.75 1.2
20500 1.2 0.9 0.7 0.7 1.25
21000 0.5 0.8 0.6 0.65 1.3
21500 0.2 0.7 0.5 0.6 1.35
22000 0.5 0.6 0.4 0.6 1.4
22050 0.5 0.6 0.4 0.6 1.4
}\Rseven

\pgfplotstableread{
fq a b c d
0 2.4 1.8 2.7 0.0
500 2.5 1.2 3.0 2.5
1000 2.7 0.4 3.8 5.0
1500 3.0 0.8 4.9 6.8
2000 3.3 1.8 5.5 5.5
2500 3.6 2.5 4.6 3.3
3000 4.5 2.8 3.3 1.5
3500 5.8 2.1 3.2 1.6
4000 7.5 2.9 3.3 4.0
4500 8.8 5.5 2.9 6.5
5000 10.0 9.5 2.5 7.2
5500 10.8 12.5 3.4 5.0
6000 11.0 14.4 4.5 1.8
6500 10.6 13.4 6.5 3.5
7000 9.7 11.0 8.8 8.5
7500 8.0 8.0 10.2 13.5
8000 6.5 6.0 11.1 16.8
8500 5.0 5.7 11.6 17.8
9000 4.0 7.3 11.0 15.5
9500 4.5 8.6 10.2 11.0
10000 5.1 9.2 8.6 6.0
10500 4.7 8.8 6.0 2.5
11000 4.0 7.2 3.6 0.9
11500 3.0 5.2 1.4 0.4
12000 2.0 3.2 0.5 1.0
12500 1.6 2.0 0.5 1.5
13000 1.5 2.5 1.2 1.8
13500 1.9 2.8 1.6 1.7
14000 2.2 2.8 1.7 1.5
14500 1.9 2.4 1.3 1.0
15000 1.5 1.8 0.9 0.5
15500 1.0 1.3 0.4 0.6
16000 0.6 1.1 0.3 0.9
16500 0.5 1.5 0.5 1.1
17000 0.7 1.7 0.8 1.2
17500 0.9 1.5 0.9 1.1
18000 1.0 1.3 0.95 0.9
18500 0.95 1.1 1.0 0.8
19000 0.85 0.9 0.95 0.7
19500 0.8 0.8 0.9 0.6
20000 0.75 0.85 0.9 0.6
20500 0.7 0.9 0.7 0.65
21000 0.7 0.9 0.5 0.7
21500 0.75 0.75 0.6 0.7
22000 0.8 0.6 0.8 0.7
22050 0.8 0.6 0.8 0.7
}\Reight

\pgfplotstableread{
fq v
0 8.0
1500 7.2
3000 5.5
4500 3.5
6000 2.0
7300 1.5
8500 2.2
10000 3.2
11000 3.4
12500 2.8
14000 1.6
15500 0.6
16500 0.2
17500 0.5
18500 0.9
20000 1.0
21000 1.0
22050 1.0
}\NineA
\pgfplotstableread{
fq v
0 1.4
1000 3.5
2000 6.5
3000 8.8
3900 9.7
5000 8.5
6000 5.0
7300 2.2
8500 4.5
9700 6.6
10700 7.1
12000 5.8
13500 3.0
15000 0.9
16500 1.2
18000 1.6
19500 1.4
21000 1.2
22050 1.2
}\NineB
\pgfplotstableread{
fq v
0 18.4
1000 17.0
2000 13.0
3000 7.5
4000 3.0
4600 2.6
5500 4.5
6500 7.2
7500 8.1
8500 6.5
9800 2.5
11000 2.8
12200 4.0
13200 4.3
14500 3.0
15500 1.2
16500 0.2
17500 1.0
18800 2.3
19800 2.8
21000 2.3
22050 1.5
}\NineC
\pgfplotstableread{
fq v
0 1.5
1000 5.0
2000 8.8
3000 11.2
3700 11.7
4500 11.0
5500 8.5
6500 6.0
7200 5.4
8000 5.8
9000 7.0
10600 7.7
12000 6.0
13500 2.8
14500 1.0
15500 1.5
17000 2.4
18000 1.8
19500 0.6
21000 1.2
22050 1.9
}\NineD
\pgfplotstableread{
fq v
0 1.1
1000 4.0
2000 8.0
3000 11.5
4000 13.6
5200 14.2
6500 12.5
7500 9.5
8500 6.0
9500 4.5
10500 4.0
11500 3.8
12500 3.2
13500 2.2
14500 1.5
15500 1.1
17000 1.3
18500 2.0
19500 2.2
21000 2.1
22050 2.0
}\NineE

\pgfplotstableread{
fq v
0 0.45
1500 0.55
3000 0.7
4200 0.8
5500 0.7
6800 0.6
8000 0.8
9500 1.3
11000 2.1
12200 2.45
13500 2.0
15000 1.1
16800 0.45
18000 0.7
19200 0.95
20500 0.8
22050 0.5
}\TenA
\pgfplotstableread{
fq v
0 1.7
1000 2.1
2000 3.0
3000 4.2
4000 5.3
5000 6.1
6600 6.6
7500 6.3
8500 5.2
9500 3.8
10500 2.4
11500 1.2
12300 0.5
13000 0.15
14000 0.6
15000 0.75
16500 0.6
18000 0.8
19300 1.05
20500 0.8
22050 0.3
}\TenB
\pgfplotstableread{
fq v
0 3.1
1000 2.6
2000 1.3
2800 0.2
3800 1.6
5000 3.6
6000 4.8
6800 5.2
7800 4.6
9000 3.4
10200 2.6
11300 2.4
12300 2.8
13100 3.05
14200 2.6
15500 1.6
16800 0.85
18000 1.1
19500 1.5
21000 1.0
22050 0.4
}\TenC
\pgfplotstableread{
fq v
0 9.6
1500 9.9
2800 10.15
4000 9.8
5000 9.0
6000 8.0
7000 7.1
8000 6.5
9000 6.2
10000 5.8
11000 5.0
12000 3.6
13000 2.3
14000 1.7
15200 1.55
16200 1.9
17200 2.1
18200 1.9
19300 1.5
20500 1.2
22050 1.1
}\TenD

\begin{document}
\begin{tikzpicture}
\begin{groupplot}[group style={group size=2 by 10, horizontal sep=49.2pt, vertical sep=36.5pt}]

% ===== row 1 =====
\nextgroupplot[L, xmin=-0.289, xmax=6.071, ymin=-0.218, ymax=0.159,
  xtick={0,1,2,3,4,5,6}, xticklabels={0,1,2,3,4,5,6},
  ytick={-0.2,-0.1,0,0.1}, yticklabels={−0.2,−0.1,0.0,0.1},
  title={ps=256\ \ \ channels 1-5\ \ (impulse response)}]
\lp{c0}{a}{\Lone}\lp{c1}{b}{\Lone}\lp{c2}{c}{\Lone}\lp{c3}{d}{\Lone}\lp{c4}{e}{\Lone}

\nextgroupplot[R, ymin=-0.7, ymax=15.45, ytick={0,5,10,15}, yticklabels={0,5,10,15},
  title={ps=256\ \ \ channels 1-5}]
\li{c0}{ch1}\li{c3}{ch4}\li{c1}{ch2}\li{c4}{ch5}\li{c2}{ch3}
\mir{c0}{a}{\Rone}\mir{c1}{b}{\Rone}\mir{c2}{c}{\Rone}\mir{c3}{d}{\Rone}\mir{c4}{e}{\Rone}

% ===== row 2 =====
\nextgroupplot[L, xmin=-0.289, xmax=6.071, ymin=-0.239, ymax=0.216,
  xtick={0,1,2,3,4,5,6}, xticklabels={0,1,2,3,4,5,6},
  ytick={-0.2,0,0.2}, yticklabels={−0.2,0.0,0.2},
  title={ps=256\ \ \ channels 6-9\ \ (impulse response)}]
\lp{c0}{a}{\Ltwo}\lp{c1}{b}{\Ltwo}\lp{c2}{c}{\Ltwo}\lp{c3}{d}{\Ltwo}

\nextgroupplot[R, ymin=-0.5, ymax=11.4, ytick={0,5,10}, yticklabels={0,5,10},
  title={ps=256\ \ \ channels 6-9}]
\li{c0}{ch6}\li{c2}{ch8}\li{c1}{ch7}\li{c3}{ch9}
\mir{c0}{a}{\Rtwo}\mir{c1}{b}{\Rtwo}\mir{c2}{c}{\Rtwo}\mir{c3}{d}{\Rtwo}

% ===== row 3 =====
\nextgroupplot[L, xmin=-0.144, xmax=3.024, ymin=-0.352, ymax=0.345,
  xtick={0,0.5,1,1.5,2,2.5,3}, xticklabels={0.0,0.5,1.0,1.5,2.0,2.5,3.0},
  ytick={-0.2,0,0.2}, yticklabels={−0.2,0.0,0.2},
  title={ps=128\ \ \ channels 10-15\ \ (impulse response)}]
\lp{c0}{a}{\Lthree}\lp{c1}{b}{\Lthree}\lp{c2}{c}{\Lthree}\lp{c3}{d}{\Lthree}\lp{c4}{e}{\Lthree}\lp{c5}{f}{\Lthree}

\nextgroupplot[R, ymin=-0.62, ymax=13.0, ytick={0,5,10}, yticklabels={0,5,10},
  title={ps=128\ \ \ channels 10-15}]
\li{c0}{ch10}\li{c3}{ch13}\li{c1}{ch11}\li{c4}{ch14}\li{c2}{ch12}\li{c5}{ch15}
\mir{c0}{a}{\Rthree}\mir{c1}{b}{\Rthree}\mir{c2}{c}{\Rthree}\mir{c3}{d}{\Rthree}\mir{c4}{e}{\Rthree}\mir{c5}{f}{\Rthree}

% ===== row 4 =====
\nextgroupplot[L, xmin=-0.0714, xmax=1.5, ymin=-1.337, ymax=1.237,
  xtick={0,0.2,0.4,0.6,0.8,1.0,1.2,1.4}, xticklabels={0.0,0.2,0.4,0.6,0.8,1.0,1.2,1.4},
  ytick={-1,0,1}, yticklabels={−1,0,1},
  title={ps=64\ \ \ channels 16-21\ \ (impulse response)}]
\addplot[p,c0] coordinates {(0,0.14)(0.05,-0.31)(0.1,-0.47)(0.15,-0.31)(0.2,0.44)(0.25,1.0)(0.29,1.12)(0.33,0.94)(0.38,0.25)(0.43,-0.63)(0.48,-1.12)(0.5,-1.12)(0.54,-0.94)(0.59,-0.25)(0.64,0.25)(0.68,0.37)(0.73,0.19)(0.79,0)(0.84,-0.06)(0.88,-0.12)(0.93,-0.31)(0.98,-0.5)(1.02,-0.75)(1.07,-0.97)(1.11,-0.81)(1.16,-0.19)(1.2,0.44)(1.25,0.62)(1.29,0.5)(1.34,0.12)(1.38,-0.31)(1.43,-0.5)};
\addplot[p,c1] coordinates {(0,0)(0.05,0.25)(0.09,0.19)(0.14,-0.19)(0.2,-0.63)(0.25,-0.81)(0.29,-0.63)(0.34,-0.19)(0.39,0.19)(0.43,0.06)(0.48,-0.31)(0.52,-0.69)(0.57,-0.88)(0.61,-0.81)(0.66,-0.19)(0.7,0.44)(0.75,0.69)(0.79,0.56)(0.84,0.31)(0.88,-0.19)(0.93,-0.94)(0.95,-1.22)(0.98,-1.12)(1.02,-0.69)(1.07,0.12)(1.11,0.88)(1.14,1.0)(1.18,0.81)(1.22,0.12)(1.27,-0.63)(1.31,-0.69)(1.36,-0.5)(1.4,-0.12)(1.43,0.25)};
\addplot[p,c2] coordinates {(0,0)(0.05,-0.44)(0.09,-0.81)(0.12,-1.01)(0.16,-1.01)(0.2,-0.69)(0.25,0.12)(0.29,0.75)(0.34,0.78)(0.39,0.75)(0.43,0.25)(0.48,-0.38)(0.52,-0.63)(0.57,-0.69)(0.61,-0.44)(0.66,0.06)(0.7,0.56)(0.75,0.81)(0.79,0.88)(0.84,0.78)(0.88,0.69)(0.93,0.44)(0.98,0.25)(1.02,0.06)(1.06,-0.06)(1.09,0.06)(1.14,0.25)(1.2,0.37)(1.25,0.5)(1.29,0.62)(1.34,0.5)(1.38,0.37)(1.43,0.06)};
\addplot[p,c3] coordinates {(0,-0.59)(0.05,-0.66)(0.09,-0.56)(0.14,-0.06)(0.18,0.37)(0.22,0.56)(0.25,0.25)(0.29,-0.31)(0.34,-0.69)(0.39,-0.88)(0.43,-1.0)(0.48,-0.75)(0.52,-0.25)(0.57,0.37)(0.61,0.75)(0.66,0.94)(0.7,0.81)(0.75,0.25)(0.79,-0.31)(0.84,-0.56)(0.88,-0.5)(0.93,-0.06)(0.98,0.37)(1.02,0.56)(1.07,0.75)(1.11,0.81)(1.16,0.44)(1.2,0.31)(1.25,0.25)(1.29,0.28)(1.34,0.34)(1.38,0.25)(1.43,0.25)};
\addplot[p,c4] coordinates {(0,0)(0.05,-0.38)(0.09,-0.69)(0.14,-0.81)(0.18,-0.63)(0.22,-0.38)(0.27,-0.19)(0.32,-0.12)(0.36,-0.38)(0.41,-0.38)(0.45,-0.44)(0.5,-0.25)(0.54,0.19)(0.59,0.25)(0.63,0.06)(0.68,-0.31)(0.73,-0.81)(0.77,-1.06)(0.82,-1.0)(0.86,-0.38)(0.91,0.56)(0.95,0.94)(0.98,0.88)(1.02,0.44)(1.07,-0.19)(1.11,-0.69)(1.16,-0.94)(1.2,-0.81)(1.25,-0.38)(1.29,0.12)(1.34,0.44)(1.38,0.56)(1.43,0.5)};
\addplot[p,c5] coordinates {(0,-0.06)(0.05,0.12)(0.09,0.37)(0.14,0.47)(0.18,0.31)(0.22,0)(0.27,-0.56)(0.32,-0.81)(0.36,-0.81)(0.41,-0.44)(0.45,0.06)(0.5,0.34)(0.54,0.19)(0.59,-0.19)(0.63,-0.69)(0.68,-0.81)(0.73,-0.38)(0.77,-0.06)(0.82,0.44)(0.86,0.66)(0.91,0.56)(0.95,0.12)(1.0,-0.38)(1.05,-0.66)(1.09,-0.66)(1.14,-0.19)(1.2,0.56)(1.25,1.0)(1.29,1.09)(1.32,0.75)(1.36,0.44)(1.4,0.12)(1.43,-0.06)};

\nextgroupplot[R, ymin=-1.1, ymax=23.4, ytick={0,10,20}, yticklabels={0,10,20},
  title={ps=64\ \ \ channels 16-21}]
\li{c0}{ch16}\li{c3}{ch19}\li{c1}{ch17}\li{c4}{ch20}\li{c2}{ch18}\li{c5}{ch21}
\mir{c0}{a}{\Rfour}\mir{c1}{b}{\Rfour}\mir{c2}{c}{\Rfour}\mir{c3}{d}{\Rfour}\mir{c4}{e}{\Rfour}\mir{c5}{f}{\Rfour}

% ===== row 5 =====
\nextgroupplot[L, xmin=-0.0351, xmax=0.738, ymin=-2.056, ymax=2.026,
  xtick={0,0.1,0.2,0.3,0.4,0.5,0.6,0.7}, xticklabels={0.0,0.1,0.2,0.3,0.4,0.5,0.6,0.7},
  ytick={-2,0,2}, yticklabels={−2,0,2},
  title={ps=32\ \ \ channels 22-27\ \ (impulse response)}]
\lp{c0}{a}{\Lfive}\lp{c1}{b}{\Lfive}\lp{c2}{c}{\Lfive}\lp{c3}{d}{\Lfive}\lp{c4}{e}{\Lfive}\lp{c5}{f}{\Lfive}

\nextgroupplot[R, ymin=-0.8, ymax=16.7, ytick={0,5,10,15}, yticklabels={0,5,10,15},
  title={ps=32\ \ \ channels 22-27}]
\li{c0}{ch22}\li{c3}{ch25}\li{c1}{ch23}\li{c4}{ch26}\li{c2}{ch24}\li{c5}{ch27}
\mir[smooth]{c0}{a}{\Rfive}\mir[smooth]{c1}{b}{\Rfive}\mir[smooth]{c2}{c}{\Rfive}\mir[smooth]{c3}{d}{\Rfive}\mir[smooth]{c4}{e}{\Rfive}\mir[smooth]{c5}{f}{\Rfive}

% ===== row 6 =====
\nextgroupplot[L, xmin=-0.0351, xmax=0.738, ymin=-1.966, ymax=2.346,
  xtick={0,0.1,0.2,0.3,0.4,0.5,0.6,0.7}, xticklabels={0.0,0.1,0.2,0.3,0.4,0.5,0.6,0.7},
  ytick={0,2}, yticklabels={0,2},
  title={ps=32\ \ \ channels 28-33\ \ (impulse response)}]
\lp{c0}{a}{\Lsix}\lp{c1}{b}{\Lsix}\lp{c2}{c}{\Lsix}\lp{c3}{d}{\Lsix}\lp{c4}{e}{\Lsix}\lp{c5}{f}{\Lsix}

\nextgroupplot[R, ymin=-0.88, ymax=18.5, ytick={0,5,10,15}, yticklabels={0,5,10,15},
  title={ps=32\ \ \ channels 28-33}]
\li{c0}{ch28}\li{c3}{ch31}\li{c1}{ch29}\li{c4}{ch32}\li{c2}{ch30}\li{c5}{ch33}
\mir[smooth]{c0}{a}{\Rsix}\mir[smooth]{c1}{b}{\Rsix}\mir[smooth]{c2}{c}{\Rsix}\mir[smooth]{c3}{d}{\Rsix}\mir[smooth]{c4}{e}{\Rsix}\mir[smooth]{c5}{f}{\Rsix}

% ===== row 7 =====
\nextgroupplot[L, xmin=-0.017, xmax=0.357, ymin=-2.555, ymax=3.055,
  xtick={0,0.05,0.1,0.15,0.2,0.25,0.3,0.35}, xticklabels={0.00,0.05,0.10,0.15,0.20,0.25,0.30,0.35},
  ytick={-2,0,2}, yticklabels={−2,0,2},
  title={ps=16\ \ \ channels 34-38\ \ (impulse response)}]
\lp{c0}{a}{\Lseven}\lp{c1}{b}{\Lseven}\lp{c2}{c}{\Lseven}\lp{c3}{d}{\Lseven}\lp{c4}{e}{\Lseven}

\nextgroupplot[R, ymin=-0.8, ymax=16.8, ytick={0,5,10,15}, yticklabels={0,5,10,15},
  title={ps=16\ \ \ channels 34-38}]
\li{c0}{ch34}\li{c3}{ch37}\li{c1}{ch35}\li{c4}{ch38}\li{c2}{ch36}
\mir[smooth]{c0}{a}{\Rseven}\mir[smooth]{c1}{b}{\Rseven}\mir[smooth]{c2}{c}{\Rseven}\mir[smooth]{c3}{d}{\Rseven}\mir[smooth]{c4}{e}{\Rseven}

% ===== row 8 =====
\nextgroupplot[L, xmin=-0.017, xmax=0.357, ymin=-3.18, ymax=2.93,
  xtick={0,0.05,0.1,0.15,0.2,0.25,0.3,0.35}, xticklabels={0.00,0.05,0.10,0.15,0.20,0.25,0.30,0.35},
  ytick={-2,0,2}, yticklabels={−2,0,2},
  title={ps=16\ \ \ channels 39-42\ \ (impulse response)}]
\lp{c0}{a}{\Leight}\lp{c1}{b}{\Leight}\lp{c2}{c}{\Leight}\lp{c3}{d}{\Leight}

\nextgroupplot[R, ymin=-0.89, ymax=18.7, ytick={0,5,10,15}, yticklabels={0,5,10,15},
  title={ps=16\ \ \ channels 39-42}]
\li{c0}{ch39}\li{c2}{ch41}\li{c1}{ch40}\li{c3}{ch42}
\mir[smooth]{c0}{a}{\Reight}\mir[smooth]{c1}{b}{\Reight}\mir[smooth]{c2}{c}{\Reight}\mir[smooth]{c3}{d}{\Reight}

% ===== row 9 =====
\nextgroupplot[L, xmin=-0.0079, xmax=0.1667, ymin=-4.38, ymax=3.99,
  xtick={0,0.02,0.04,0.06,0.08,0.1,0.12,0.14,0.16}, xticklabels={0.00,0.02,0.04,0.06,0.08,0.10,0.12,0.14,0.16},
  ytick={-2.5,0,2.5}, yticklabels={−2.5,0.0,2.5},
  title={ps=8\ \ \ channels 43-47\ \ (impulse response)}]
\lp{c0}{a}{\Lnine}\lp{c1}{b}{\Lnine}\lp{c2}{c}{\Lnine}\lp{c3}{d}{\Lnine}\lp{c4}{e}{\Lnine}

\nextgroupplot[R, ymin=-0.92, ymax=19.35, ytick={0,10}, yticklabels={0,10},
  title={ps=8\ \ \ channels 43-47}]
\li{c0}{ch43}\li{c3}{ch46}\li{c1}{ch44}\li{c4}{ch47}\li{c2}{ch45}
\mir[smooth]{c0}{v}{\NineA}\mir[smooth]{c1}{v}{\NineB}\mir[smooth]{c2}{v}{\NineC}\mir[smooth]{c3}{v}{\NineD}\mir[smooth]{c4}{v}{\NineE}

% ===== row 10 =====
\nextgroupplot[L, xmin=-0.0079, xmax=0.1667, ymin=-3.95, ymax=2.79,
  xtick={0,0.02,0.04,0.06,0.08,0.1,0.12,0.14,0.16}, xticklabels={0.00,0.02,0.04,0.06,0.08,0.10,0.12,0.14,0.16},
  ytick={-2,0,2}, yticklabels={−2,0,2}, xlabel={time (ms)},
  title={ps=8\ \ \ channels 48-51\ \ (impulse response)}]
\lp{c0}{a}{\Lten}\lp{c1}{b}{\Lten}\lp{c2}{c}{\Lten}\lp{c3}{d}{\Lten}

\nextgroupplot[R, ymin=-0.35, ymax=10.65, ytick={0,5,10}, yticklabels={0,5,10}, xlabel={frequency (Hz)},
  title={ps=8\ \ \ channels 48-51}]
\li{c0}{ch48}\li{c2}{ch50}\li{c1}{ch49}\li{c3}{ch51}
\mir[smooth]{c0}{v}{\TenA}\mir[smooth]{c1}{v}{\TenB}\mir[smooth]{c2}{v}{\TenC}\mir[smooth]{c3}{v}{\TenD}

\end{groupplot}
\node[font=\fontsize{10}{12}\selectfont, anchor=base] at ([xshift=309.9pt, yshift=21pt]group c1r1.north west) {analysis filterbank — impulse (left) and magnitude (right) response per filter};
\pgfresetboundingbox
\path[use as bounding box] ([xshift=-54pt,yshift=36.6pt]group c1r1.north west) rectangle ([xshift=7.2pt,yshift=-39pt]group c2r10.south east);
\end{tikzpicture}
\end{document}
